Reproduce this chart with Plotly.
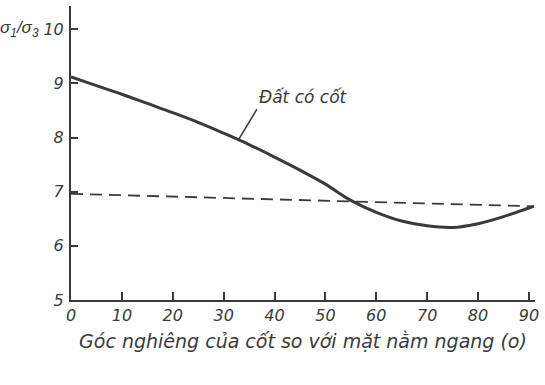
import plotly.graph_objects as go

# Data
angle = [0, 5, 10, 15, 20, 25, 30, 35, 40, 45, 50, 55, 60, 65, 70, 75, 80, 85, 90, 91]
ratio_reinforced = [9.12, 8.96, 8.80, 8.63, 8.46, 8.28, 8.08, 7.87, 7.64, 7.40, 7.14, 6.84,
                    6.62, 6.46, 6.37, 6.34, 6.41, 6.54, 6.70, 6.73]
angle_unreinforced = [0, 91]
ratio_unreinforced = [6.96, 6.73]
x_ticks = [0, 10, 20, 30, 40, 50, 60, 70, 80, 90]
y_ticks = [5, 6, 7, 8, 9, 10]

ink = "#3a3a3a"
font_family = "DejaVu Sans, Liberation Sans, sans-serif"

fig = go.Figure()
fig.add_trace(go.Scatter(x=angle_unreinforced, y=ratio_unreinforced, mode="lines",
                         line=dict(color=ink, width=1.8, dash="12px,7px"),
                         showlegend=False, hoverinfo="skip"))
fig.add_trace(go.Scatter(x=angle, y=ratio_reinforced, mode="lines",
                         line=dict(color=ink, width=3, shape="spline", smoothing=1.0),
                         showlegend=False, hoverinfo="skip"))

fig.add_annotation(x=33.0, y=7.97, xref="x", yref="y", text="Đất có cốt",
                   showarrow=True, arrowhead=0, arrowwidth=1.5, arrowcolor=ink,
                   ax=18, ay=-30, xanchor="left", yanchor="bottom",
                   font=dict(family=font_family, size=17, color=ink, style="italic"))
fig.add_annotation(x=0, y=1.0, xref="paper", yref="paper", xanchor="right", yanchor="top",
                   xshift=-30, yshift=-10,
                   text="σ<sub>1</sub>/σ<sub>3</sub>", showarrow=False,
                   font=dict(family="Liberation Sans, sans-serif", size=17, color=ink, style="italic"))

fig.update_layout(
    width=545, height=385,
    margin=dict(l=71, r=6, t=6, b=85),
    paper_bgcolor="white", plot_bgcolor="white",
    font=dict(family=font_family, color=ink, size=16, style="italic"),
    xaxis=dict(range=[0, 91.2], tickvals=x_ticks, ticks="inside", ticklen=8, tickwidth=1.5,
               tickcolor=ink, showline=True, linecolor=ink, linewidth=2, showgrid=False,
               zeroline=False, ticklabelstandoff=0, ticklabeloverflow="allow",
               tickfont=dict(size=16, style="italic"),
               title=dict(text="Góc nghiêng của cốt so với mặt nằm ngang (o)",
                          font=dict(size=19, style="italic"), standoff=10)),
    yaxis=dict(range=[5, 10.43], tickvals=y_ticks, ticks="inside", ticklen=7, tickwidth=1.5,
               tickcolor=ink, showline=True, linecolor=ink, linewidth=2, showgrid=False,
               zeroline=False, ticklabelstandoff=2,
               tickfont=dict(size=16, style="italic")),
)

fig.write_html("out.html", config={"displayModeBar": False},
               post_script="document.body.style.margin='0';")
